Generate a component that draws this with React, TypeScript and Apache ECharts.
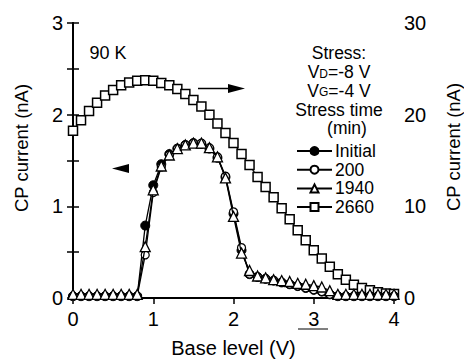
import React, { useEffect, useRef } from "react";
import * as echarts from "echarts";

const baseLevels = [
  0, 0.1, 0.2, 0.3, 0.4, 0.5, 0.6, 0.7, 0.8, 0.9,
  1.0, 1.1, 1.2, 1.3, 1.4, 1.5, 1.6, 1.7, 1.8, 1.9,
  2.0, 2.1, 2.2, 2.3, 2.4, 2.5, 2.6, 2.7, 2.8, 2.9,
  3.0, 3.1, 3.2, 3.3, 3.4, 3.5, 3.6, 3.7, 3.8, 3.9, 4.0,
];

// left axis (nA)
const initialVals = [
  0.02, 0.02, 0.02, 0.02, 0.02, 0.02, 0.02, 0.02, 0.02, 0.79,
  1.23, 1.46, 1.57, 1.63, 1.67, 1.69, 1.68, 1.63, 1.53, 1.32,
  0.92, 0.52, 0.26, 0.23, 0.21, 0.19, 0.17, 0.15, 0.13, 0.11,
  0.09, 0.07, 0.04, 0.02, 0.02, 0.02, 0.02, 0.02, 0.02, 0.02, 0.02,
];
const min200Vals = [
  0.02, 0.02, 0.02, 0.02, 0.02, 0.02, 0.02, 0.02, 0.02, 0.47,
  1.15, 1.43, 1.56, 1.63, 1.67, 1.69, 1.69, 1.64, 1.54, 1.33,
  0.94, 0.55, 0.26, 0.23, 0.21, 0.19, 0.17, 0.15, 0.13, 0.11,
  0.09, 0.07, 0.04, 0.02, 0.02, 0.02, 0.02, 0.02, 0.02, 0.02, 0.02,
];
const min1940Vals = [
  0.04, 0.04, 0.04, 0.04, 0.04, 0.04, 0.04, 0.04, 0.04, 0.56,
  1.18, 1.44, 1.56, 1.63, 1.67, 1.69, 1.69, 1.64, 1.54, 1.31,
  0.89, 0.49, 0.30, 0.24, 0.22, 0.20, 0.19, 0.18, 0.16, 0.15,
  0.135, 0.12, 0.08, 0.04, 0.04, 0.04, 0.04, 0.04, 0.04, 0.04, 0.04,
];
// right axis (nA)
const min2660Vals = [
  18.25, 19.4, 20.4, 21.3, 22.1, 22.7, 23.2, 23.5, 23.7, 23.75,
  23.7, 23.45, 23.2, 22.8, 22.25, 21.6, 20.9, 20.0, 19.05, 18.0,
  16.9, 15.7, 14.5, 13.2, 12.1, 11.0, 9.8, 8.6, 7.4, 6.3,
  5.2, 4.3, 3.4, 2.6, 2.0, 1.45, 1.1, 0.85, 0.63, 0.5, 0.45,
];

const seriesNames = ["Initial", "200", "1940", "2660"];
const xTicks = ["0", "1", "2", "3", "4"];
const stressNote = ["Stress:", "V{s|D}=-8 V", "V{s|G}=-4 V", "Stress time", "{m|(min)}"];

const FONT = "Liberation Sans";

const pairs = (vals: number[]) => baseLevels.map((x, i) => [x, vals[i]]);

export default function App() {
  const ref = useRef<HTMLDivElement>(null);
  useEffect(() => {
    if (!ref.current) return;
    const chart = echarts.init(ref.current, undefined, { renderer: "svg" });
    const axisLine = { show: true, lineStyle: { color: "#000", width: 2 } };
    const label = { color: "#000", fontSize: 20, fontFamily: FONT };
    const tick = { show: true, inside: true, length: 6, lineStyle: { color: "#000", width: 1.5 } };
    const minor = { show: true, splitNumber: 2, length: 6, lineStyle: { color: "#000", width: 1.5 } };
    chart.setOption({
      animation: false,
      backgroundColor: "#fff",
      textStyle: { fontFamily: FONT },
      grid: { left: 73, right: 70, top: 23, bottom: 65 },
      legend: {
        data: seriesNames,
        orient: "vertical",
        left: 291,
        top: 137,
        itemWidth: 35,
        itemHeight: 10,
        itemGap: 0.7,
        textStyle: { fontSize: 17.5, lineHeight: 18, color: "#000", fontFamily: FONT, padding: [0, 0, 0, -2] },
        selectedMode: false,
      },
      xAxis: [
        {
          type: "value",
          min: 0,
          max: 4,
          interval: 1,
          position: "bottom",
          axisLine,
          axisTick: { show: false },
          axisLabel: { ...label, margin: 11, formatter: (v: number) => xTicks[Math.round(v)] },
          splitLine: { show: false },
          name: "Base level (V)",
          nameLocation: "middle",
          nameGap: 40,
          nameTextStyle: { fontSize: 20, color: "#000", fontFamily: FONT },
        },
        {
          type: "value",
          min: 0,
          max: 4,
          interval: 1,
          position: "top",
          axisLine,
          axisTick: tick,
          axisLabel: { show: false },
          splitLine: { show: false },
        },
      ],
      yAxis: [
        {
          type: "value",
          min: 0,
          max: 3,
          interval: 1,
          position: "left",
          axisLine,
          axisTick: tick,
          minorTick: minor,
          axisLabel: { ...label, margin: 10 },
          splitLine: { show: false },
        },
        {
          type: "value",
          min: 0,
          max: 30,
          interval: 10,
          position: "right",
          axisLine,
          axisTick: tick,
          minorTick: minor,
          axisLabel: { ...label, margin: 10 },
          splitLine: { show: false },
        },
      ],
      series: [
        {
          name: "2660",
          type: "line",
          yAxisIndex: 1,
          data: pairs(min2660Vals),
          symbol: "rect",
          symbolSize: 9,
          lineStyle: { color: "#000", width: 1.3 },
          itemStyle: { color: "#fff", borderColor: "#000", borderWidth: 1.5 },
          z: 2,
        },
        {
          name: "Initial",
          type: "line",
          data: pairs(initialVals),
          symbol: "circle",
          symbolSize: 9,
          lineStyle: { color: "#000", width: 1.3 },
          itemStyle: { color: "#000", borderColor: "#000", borderWidth: 1 },
          z: 3,
        },
        {
          name: "200",
          type: "line",
          data: pairs(min200Vals),
          symbol: "circle",
          symbolSize: 8,
          lineStyle: { color: "#000", width: 1.3 },
          itemStyle: { color: "#fff", borderColor: "#000", borderWidth: 1.2 },
          z: 4,
        },
        {
          name: "1940",
          type: "line",
          data: pairs(min1940Vals),
          symbol: "triangle",
          symbolSize: 10,
          lineStyle: { color: "#000", width: 1.3 },
          itemStyle: { color: "#fff", borderColor: "#000", borderWidth: 1.3 },
          z: 5,
        },
      ],
      graphic: [
        { type: "text", x: 108, y: 53, style: { text: "90 K", fontSize: 18, fill: "#000", fontFamily: FONT, align: "center", verticalAlign: "middle" } },
        {
          type: "text", x: 339, y: 44,
          style: {
            text: stressNote.join("\n"), fontSize: 17.5, lineHeight: 18.75, fill: "#000", fontFamily: FONT,
            align: "center", verticalAlign: "top",
            rich: {
              s: { fontSize: 12, lineHeight: 10, fill: "#000", fontFamily: FONT, padding: [3, 0, 0, 0] },
              m: { fontSize: 17.5, lineHeight: 18.75, fill: "#000", fontFamily: FONT, padding: [0, 0, 0, 16] },
            },
          },
        },
        { type: "text", x: 21, y: 148, rotation: Math.PI / 2, style: { text: "CP current (nA)", fontSize: 18.5, fill: "#000", fontFamily: FONT, align: "center", verticalAlign: "middle" } },
        { type: "text", x: 453, y: 147, rotation: Math.PI / 2, style: { text: "CP current (nA)", fontSize: 18.5, fill: "#000", fontFamily: FONT, align: "center", verticalAlign: "middle" } },
        { type: "line", shape: { x1: 198, y1: 88.5, x2: 230, y2: 88.5 }, style: { stroke: "#000", lineWidth: 1.5 } },
        { type: "polygon", shape: { points: [[228, 84], [245, 88.5], [228, 93]] }, style: { fill: "#000" } },
        { type: "polygon", shape: { points: [[112, 168.5], [129, 164], [129, 173]] }, style: { fill: "#000" } },
        { type: "line", shape: { x1: 298, y1: 329, x2: 328, y2: 329 }, style: { stroke: "#000", lineWidth: 1 } },
      ],
    });
    return () => chart.dispose();
  }, []);
  return <div ref={ref} style={{ position: "fixed", left: 0, top: 0, width: 464, height: 363 }} />;
}
